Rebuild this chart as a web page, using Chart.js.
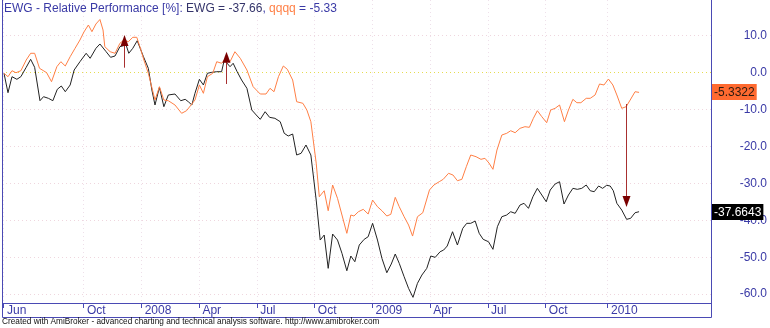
<!DOCTYPE html>
<html>
<head>
<meta charset="utf-8">
<script src="https://cdn.jsdelivr.net/npm/chart.js@4.4.0/dist/chart.umd.min.js"></script>
<style>
  html, body { margin: 0; padding: 0; background: #fff; }
  canvas { display: block; }
</style>
</head>
<body>
<canvas id="myChart" width="770" height="328"></canvas>
<script>
  // weekly bars, week 0 = first week of June 2007
  const ewgWeeks = [
    0, 0.9, 1.8, 2.9, 3.8, 5.0, 6.0, 6.9, 8.1, 8.9,
    10.0, 11.0, 12.0, 12.9, 13.8, 14.9, 15.8, 17.1, 18.5, 19.4,
    20.7, 21.6, 23.0, 24.0, 25.0, 26.1, 27.5, 28.1, 29.0, 30.0,
    31.4, 32.5, 33.3, 34.0, 35.0, 36.0, 37.0, 38.5, 39.8, 40.8,
    41.5, 42.3, 43.0, 44.0, 44.9, 45.8, 46.8, 47.9, 49.0, 49.6,
    50.9, 51.6, 52.5, 53.5, 54.7, 55.8, 56.8, 57.7, 58.8, 59.8,
    61.0, 62.2, 63.1, 64.0, 65.0, 65.9, 66.9, 68.0, 69.1, 70.3,
    71.2, 72.1, 73.0, 74.0, 75.1, 76.1, 77.2, 78.1, 79.0, 80.0,
    81.1, 82.0, 83.0, 84.1, 85.1, 86.2, 87.2, 88.1, 89.0, 90.1,
    91.1, 92.1, 93.1, 94.1, 95.2, 96.1, 97.1, 98.2, 99.0, 99.8,
    101.0, 102.1, 103.3, 104.2, 105.1, 106.1, 107.0, 107.9, 109.1, 110.1,
    111.1, 112.1, 113.2, 114.1, 115.1, 116.2, 117.1, 118.1, 119.1, 120.1,
    121.1, 122.1, 123.0, 124.1, 125.1, 126.1, 127.1, 128.1, 129.1, 130.1,
    131.1, 132.0, 132.9, 133.9, 134.8, 135.7, 136.5, 137.2, 138.0, 139.1,
    140.2, 141.1, 142.1, 143.0
  ];
  const ewgValues = [
    -0.16, -5.42, -1.08, -1.79, -1.08, 1.46, 3.63, 1.46, -7.59, -6.50,
    -6.94, -7.59, -4.50, -3.60, -5.15, -3.33, 0.73, 2.98, 5.26, 3.90,
    6.61, 7.78, 5.69, 4.17, 4.53, 7.05, 7.51, 5.26, 6.61, 8.67,
    4.34, 1.19, -4.69, -8.75, -3.96, -9.21, -6.04, -5.77, -7.59, -7.21,
    -7.86, -8.75, -5.58, -1.79, -3.33, -0.16, 0.11, 0.27, 0.27, 3.44,
    1.63, 2.55, 0.27, -1.98, -4.23, -10.11, -11.46, -12.63, -10.57, -12.09,
    -12.36, -13.28, -16.42, -17.15, -16.61, -22.30, -21.84, -19.59, -22.30, -34.50,
    -45.34, -43.98, -53.01, -43.71, -45.34, -48.94, -53.66, -49.67, -51.22, -46.69,
    -45.15, -44.44, -40.81, -45.34, -50.30, -54.20, -51.84, -49.13, -51.65, -55.28,
    -58.43, -60.87, -57.07, -54.82, -53.01, -49.67, -50.03, -48.51, -48.05, -46.96,
    -43.09, -46.69, -42.17, -40.81, -40.81, -40.19, -43.52, -45.15, -45.80, -47.86,
    -41.73, -39.02, -38.56, -37.67, -38.10, -35.85, -35.39, -36.75, -33.60, -31.33,
    -33.14, -34.96, -31.79, -30.16, -29.54, -35.58, -33.14, -31.33, -31.60, -31.33,
    -30.43, -31.98, -32.25, -30.70, -31.33, -30.51, -30.70, -31.98, -35.39, -37.21,
    -39.73, -39.46, -37.94, -37.6643
  ];

  const qqqqWeeks = [
    0, 0.9, 1.8, 2.7, 3.8, 5.0, 6.0, 6.9, 8.0, 8.8,
    9.6, 10.7, 11.9, 12.8, 13.8, 14.9, 16.0, 17.1, 18.0, 19.0,
    19.8, 20.7, 21.6, 22.3, 22.7, 23.9, 25.0, 26.1, 27.0, 28.0,
    29.0, 29.9, 30.6, 31.5, 32.5, 33.1, 34.0, 35.0, 36.0, 37.0,
    38.5, 40.0, 41.1, 42.3, 43.0, 44.0, 44.9, 45.8, 47.0, 47.9,
    49.0, 50.0, 50.9, 52.0, 53.2, 54.7, 56.1, 57.7, 59.0, 59.9,
    60.8, 61.8, 62.9, 63.8, 65.0, 65.9, 67.3, 68.2, 69.1, 70.3,
    71.0, 72.1, 73.0, 74.0, 75.1, 76.1, 77.2, 78.1, 78.8, 79.8,
    80.9, 82.0, 83.0, 84.1, 85.1, 86.2, 87.1, 88.1, 89.0, 90.1,
    91.1, 92.0, 93.1, 94.3, 95.8, 96.8, 98.0, 98.9, 100.1, 101.1,
    102.1, 103.1, 104.1, 105.1, 106.3, 107.4, 108.3, 109.2, 110.1, 111.0,
    112.1, 113.2, 114.1, 115.1, 116.2, 117.3, 118.3, 119.2, 120.1, 121.1,
    122.2, 123.1, 124.1, 125.1, 126.2, 127.1, 128.1, 129.0, 129.9, 131.1,
    132.0, 133.1, 134.1, 135.1, 136.1, 137.1, 138.0, 139.1, 140.1, 141.0,
    142.1, 143.0
  ];
  const qqqqValues = [
    -0.16, -1.08, 0.54, 0, 0.54, 3.44, 5.26, 5.26, 1.19, 0.60,
    0, -2.44, 1.63, 2.98, 1.82, 4.34, 6.61, 8.86, 11.03, 12.93,
    11.11, 13.20, 14.42, 11.57, 7.05, 5.69, 5.26, 7.97, 8.86, 8.40,
    9.59, 9.59, 7.05, 3.44, -0.16, -3.06, -7.40, -3.79, -7.40, -7.59,
    -8.75, -11.00, -10.30, -8.48, -7.40, -3.33, -5.58, -1.08, -0.16, 2.98,
    2.55, 3.98, 2.98, 5.69, 3.90, 0.73, -3.79, -5.77, -5.77, -4.23,
    -5.15, -1.08, 1.82, 0.92, -1.98, -7.86, -8.29, -10.11, -13.28, -24.50,
    -33.60, -31.98, -37.40, -30.43, -34.04, -38.56, -43.52, -38.56, -38.83, -37.67,
    -37.02, -38.29, -34.50, -36.31, -37.40, -38.83, -38.37, -33.77, -36.31, -39.02,
    -41.27, -44.26, -39.02, -37.94, -31.79, -30.43, -29.54, -28.89, -27.26, -27.72,
    -29.27, -28.89, -25.47, -22.30, -22.76, -23.47, -23.20, -24.47, -26.18, -20.95,
    -16.88, -16.42, -15.72, -16.26, -15.07, -14.63, -14.80, -12.36, -10.30, -11.92,
    -13.55, -10.11, -9.65, -8.75, -13.28, -10.11, -7.21, -8.13, -8.13, -6.94,
    -6.94, -6.04, -3.06, -3.33, -1.71, -3.33, -6.04, -9.65, -9.21, -7.40,
    -5.15, -5.3322
  ];

  const tickWeeks = [0, 18, 31, 44, 57, 70, 83, 96, 109, 122, 136];
  const tickLabels = ['Jun', 'Oct', '2008', 'Apr', 'Jul', 'Oct', '2009', 'Apr', 'Jul', 'Oct', '2010'];
  const yTicks = [10, 0, -10, -20, -30, -40, -50, -60];

  // buy / sell arrows: week, start value, tip value
  const upArrowWeeks = [27.0, 50.0];
  const upArrowFrom = [1.36, -3.06];
  const upArrowTo = [10.2, 5.69];
  const downArrowWeeks = [140.1];
  const downArrowFrom = [-8.48];
  const downArrowTo = [-36.4];

  const FONT = 'Arial, "Liberation Sans", sans-serif';
  const BLUE = '#3a3aa6';
  const FRAME = '#4a4ab4';
  const ORANGE = '#ff7f45';

  function pts(ws, vs) {
    return ws.map((w, i) => ({ x: w, y: vs[i] }));
  }

  const overlay = {
    id: 'overlay',
    afterDatasetsDraw(chart) {
      const ctx = chart.ctx, x = chart.scales.x, y = chart.scales.y;
      ctx.save();
      function arrow(w, from, to) {
        const px = Math.round(x.getPixelForValue(w)) + 0.5;
        const y0 = y.getPixelForValue(from), y1 = y.getPixelForValue(to);
        const dir = y1 < y0 ? 1 : -1;
        ctx.strokeStyle = '#a83030';
        ctx.lineWidth = 1;
        ctx.beginPath();
        ctx.moveTo(px, y0);
        ctx.lineTo(px, y1 + dir * 8);
        ctx.stroke();
        ctx.fillStyle = '#7a0000';
        ctx.beginPath();
        ctx.moveTo(px, y1);
        ctx.lineTo(px - 4, y1 + dir * 11);
        ctx.lineTo(px + 4, y1 + dir * 11);
        ctx.closePath();
        ctx.fill();
      }
      upArrowWeeks.forEach((w, i) => arrow(w, upArrowFrom[i], upArrowTo[i]));
      downArrowWeeks.forEach((w, i) => arrow(w, downArrowFrom[i], downArrowTo[i]));
      ctx.restore();
    },
    afterDraw(chart) {
      const ctx = chart.ctx, a = chart.chartArea, y = chart.scales.y, x = chart.scales.x;
      ctx.save();
      // frame
      ctx.strokeStyle = FRAME;
      ctx.lineWidth = 1;
      const L = a.left + 0.5, R = a.right + 0.5, B = a.bottom + 0.5, XB = x.bottom + 0.5;
      ctx.beginPath();
      ctx.moveTo(L, 0); ctx.lineTo(L, XB);
      ctx.moveTo(R, 0); ctx.lineTo(R, XB);
      ctx.moveTo(L, B); ctx.lineTo(R, B);
      ctx.moveTo(L, XB); ctx.lineTo(R, XB);
      ctx.stroke();

      // last value boxes on the axis
      ctx.font = '12px ' + FONT;
      ctx.textBaseline = 'middle';
      ctx.textAlign = 'left';
      function box(val, bg, fg) {
        const text = val.toFixed(4);
        const yy = Math.round(y.getPixelForValue(val));
        const w = ctx.measureText(text).width + 4;
        ctx.fillStyle = bg;
        ctx.fillRect(a.right + 1, yy - 8, w, 16);
        ctx.fillStyle = fg;
        ctx.fillText(text, a.right + 3, yy + 0.5);
      }
      const lastQ = qqqqValues[qqqqValues.length - 1];
      const lastE = ewgValues[ewgValues.length - 1];
      box(lastQ, '#ff6a30', '#2a1a10');
      box(lastE, '#000000', '#ffffff');

      // title
      const parts = [
        ['EWG - Relative Performance [%]: ', BLUE],
        ['EWG = ' + lastE.toFixed(2), '#34346a'],
        [', ', BLUE],
        ['qqqq', ORANGE],
        [' = ' + lastQ.toFixed(2), BLUE]
      ];
      let tx = a.left + 2;
      parts.forEach(p => {
        ctx.fillStyle = p[1];
        ctx.fillText(p[0], tx, 8.5);
        tx += ctx.measureText(p[0]).width;
      });

      // footer
      const foot = 'Created with AmiBroker - advanced charting and technical analysis software. http://www.amibroker.com';
      ctx.font = '10px ' + FONT;
      const fs = 10 * 378 / ctx.measureText(foot).width;
      ctx.font = fs.toFixed(2) + 'px ' + FONT;
      ctx.fillStyle = '#111';
      ctx.fillText(foot, 2, 321.5);
      ctx.restore();
    }
  };

  let ctx = document.getElementById('myChart').getContext('2d');

  let chart = new Chart(ctx, {
    type: 'line',
    data: {
      datasets: [
        {
          label: 'qqqq',
          data: pts(qqqqWeeks, qqqqValues),
          borderColor: ORANGE,
          borderWidth: 1,
          pointRadius: 0,
          tension: 0
        },
        {
          label: 'EWG',
          data: pts(ewgWeeks, ewgValues),
          borderColor: '#222222',
          borderWidth: 1,
          pointRadius: 0,
          tension: 0
        }
      ]
    },
    options: {
      responsive: false,
      animation: false,
      layout: { padding: { left: 2, right: 3, top: 0, bottom: 11 } },
      plugins: { legend: { display: false }, tooltip: { enabled: false } },
      scales: {
        x: {
          type: 'linear',
          min: -0.45,
          max: 159.2,
          afterBuildTicks: s => { s.ticks = tickWeeks.map(v => ({ value: v })); },
          afterFit: s => { s.height = 14; s.paddingLeft = 0; s.paddingRight = 0; },
          grid: { color: '#eee0ea', tickColor: FRAME, tickLength: 5 },
          border: { display: false, dash: [1, 3] },
          ticks: {
            autoSkip: false,
            maxRotation: 0,
            align: 'start',
            labelOffset: 3,
            padding: -5,
            color: BLUE,
            font: { family: FONT, size: 12 },
            callback: (v, i) => tickLabels[i]
          }
        },
        y: {
          position: 'right',
          min: -62.4,
          max: 19.7,
          afterBuildTicks: s => { s.ticks = yTicks.map(v => ({ value: v })); },
          afterFit: s => { s.width = 56; s.paddingTop = 0; s.paddingBottom = 0; },
          grid: {
            drawTicks: false,
            color: c => (c.tick && c.tick.value === 0) ? '#e6dc50' : '#efd6de'
          },
          border: { display: false, dash: [1, 3] },
          ticks: {
            crossAlign: 'far',
            color: BLUE,
            font: { family: FONT, size: 12 },
            callback: v => Number(v).toFixed(1)
          }
        }
      }
    },
    plugins: [overlay]
  });
</script>
</body>
</html>
